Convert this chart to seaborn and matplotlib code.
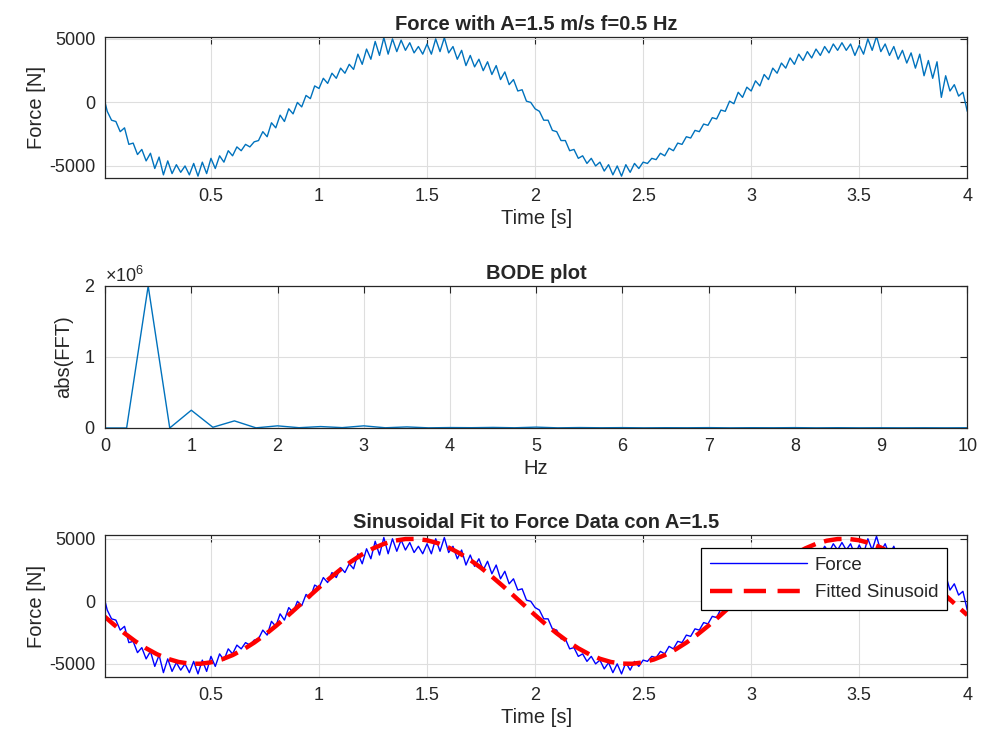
import numpy as np
import pandas as pd
import matplotlib
matplotlib.use("Agg")
import matplotlib.pyplot as plt
from matplotlib.ticker import ScalarFormatter
import seaborn as sns

force_vals = [
    0,
    -700, -1400, -1500, -2300, -2000, -3300, -3200, -4100, -3700, -4600,
    -4000, -5200, -4300, -5700, -4600, -5600, -4900, -5500, -5000, -5700,
    -4800, -5800, -4700, -5600, -4400, -5200, -4200, -4700, -3800, -4200,
    -3500, -3800, -3300, -3500, -3100, -3000, -2300, -2700, -1600, -2000,
    -1000, -1500, -500, -900, 0, -350, 550, 300, 1300, 1100,
    1900, 1500, 2300, 1900, 2700, 2300, 3000, 2600, 3800, 3000,
    4200, 3400, 4800, 3700, 5100, 3800, 5000, 4000, 4900, 4100,
    4700, 3900, 4400, 3800, 4600, 3800, 5000, 4000, 5100, 3900,
    4400, 3400, 4100, 2900, 3700, 2800, 3400, 2500, 3200, 2200,
    2900, 1800, 2400, 1400, 1800, 900, 1000, 100, 0, -500,
    -700, -1400, -1400, -2200, -2300, -3000, -3000, -3800, -3700, -4400,
    -4200, -4800, -4400, -5000, -4700, -5400, -4900, -5700, -5000, -5800,
    -4900, -5500, -4800, -5200, -4700, -4800, -4400, -4500, -4000, -4200,
    -3600, -3800, -3200, -3300, -2700, -2800, -2200, -2300, -1700, -1800,
    -1200, -1300, -600, -700, 100, -100, 800, 400, 1200, 900,
    1700, 1300, 2200, 1800, 2700, 2300, 3100, 2700, 3500, 3000,
    3800, 3300, 4000, 3500, 4200, 3700, 4400, 3900, 4600, 4100,
    4700, 4100, 4600, 3700, 4500, 3800, 5000, 4100, 5200, 4000,
    4600, 3700, 4400, 3400, 4100, 3100, 3900, 2700, 3800, 2100,
    3300, 1900, 3200, 400, 2100, 900, 1400, 500, 800, -700,
]
time_s = np.concatenate([[0.01], np.round(np.arange(1, 201) * 0.02, 2)])

# fitted sinusoid, every 0.05 s
fit_time = np.round(np.arange(0, 81) * 0.05, 2)
fit_vals = [
    -1099, -1849, -2553, -3195, -3756, -4226, -4592, -4845, -4979, -4990,
    -4878, -4646, -4299, -3846, -3300, -2672, -1978, -1235, -462, 323,
    1099, 1849, 2553, 3195, 3756, 4226, 4592, 4845, 4979, 4990,
    4878, 4646, 4299, 3846, 3300, 2672, 1978, 1235, 462, -323,
    -1099, -1849, -2553, -3195, -3756, -4226, -4592, -4845, -4979, -4990,
    -4878, -4646, -4299, -3846, -3300, -2672, -1978, -1235, -462, 323,
    1099, 1849, 2553, 3195, 3756, 4226, 4592, 4845, 4979, 4990,
    4878, 4646, 4299, 3846, 3300, 2672, 1978, 1235, 462, -323,
    -1099,
]

# spectrum magnitude, every 0.25 Hz
freq_hz = np.round(np.arange(0, 41) * 0.25, 2)
fft_abs = [
    0, 0, 2.0e6, 0, 0.25e6, 0.01e6, 0.1e6, 0.002e6, 0.03e6, 0.004e6,
    0.02e6, 0.005e6, 0.03e6, 0.003e6, 0.015e6, 0.002e6, 0.006e6, 0.004e6, 0.008e6, 0.003e6,
    0.012e6, 0.002e6, 0.006e6, 0.003e6, 0.005e6, 0.002e6, 0.004e6, 0.003e6, 0.005e6, 0.002e6,
    0.004e6, 0.003e6, 0.005e6, 0.002e6, 0.004e6, 0.002e6, 0.003e6, 0.002e6, 0.003e6, 0.002e6,
    0.003e6,
]

force_df = pd.DataFrame({"t": time_s, "F": force_vals})
fit_df = pd.DataFrame({"t": fit_time, "F": fit_vals})
fft_df = pd.DataFrame({"f": freq_hz, "A": fft_abs})

sns.set_theme(style="white")
plt.rcParams["font.family"] = ["Liberation Sans", "DejaVu Sans"]
plt.rcParams["mathtext.fontset"] = "custom"
plt.rcParams["mathtext.rm"] = "Liberation Sans"
plt.rcParams["axes.unicode_minus"] = False

ink = "#262626"
fig = plt.figure(figsize=(9.82, 7.49), dpi=100)
ax1 = fig.add_axes([0.107, 0.7623, 0.878, 0.1883])
ax2 = fig.add_axes([0.107, 0.4286, 0.878, 0.1896])
ax3 = fig.add_axes([0.107, 0.0961, 0.878, 0.1896])


def style(ax):
    for s in ax.spines.values():
        s.set_color(ink)
        s.set_linewidth(0.9)
    ax.grid(True, color="#dedede", linewidth=0.8)
    ax.set_axisbelow(True)
    ax.tick_params(direction="in", length=5, width=0.8, colors=ink,
                   labelsize=13, top=True, right=True, pad=7)
    ax.xaxis.label.set_color(ink)
    ax.yaxis.label.set_color(ink)


sns.lineplot(data=force_df, x="t", y="F", ax=ax1, color="#0072BD",
             linewidth=1.0, estimator=None, sort=False)
ax1.set_xlim(0.01, 4)
ax1.set_ylim(-5950, 5150)
ax1.set_xticks([0.5, 1, 1.5, 2, 2.5, 3, 3.5, 4])
ax1.set_xticklabels(["0.5", "1", "1.5", "2", "2.5", "3", "3.5", "4"])
ax1.set_yticks([-5000, 0, 5000])
ax1.set_xlabel("Time [s]", fontsize=14.5, labelpad=3)
ax1.set_ylabel("Force [N]", fontsize=14.5, labelpad=2)
ax1.set_title("Force with A=1.5 m/s f=0.5 Hz", fontsize=14.5, fontweight="bold", pad=5)
style(ax1)

sns.lineplot(data=fft_df, x="f", y="A", ax=ax2, color="#0072BD",
             linewidth=1.0, estimator=None, sort=False)
ax2.set_xlim(0, 10)
ax2.set_ylim(0, 2.0e6)
ax2.set_xticks(range(0, 11))
ax2.set_yticks([0, 1e6, 2e6])
fmt = ScalarFormatter(useMathText=True)
fmt.set_powerlimits((0, 0))
ax2.yaxis.set_major_formatter(fmt)
ax2.set_xlabel("Hz", fontsize=14.5, labelpad=3)
ax2.set_ylabel("abs(FFT)", fontsize=14.5, labelpad=8)
ax2.set_title("BODE plot", fontsize=14.5, fontweight="bold", pad=5)
style(ax2)
ax2.yaxis.get_offset_text().set_fontsize(13)
ax2.yaxis.get_offset_text().set_color(ink)

sns.lineplot(data=force_df, x="t", y="F", ax=ax3, color="blue",
             linewidth=1.0, estimator=None, sort=False, label="Force")
sns.lineplot(data=fit_df, x="t", y="F", ax=ax3, color="red",
             linewidth=3.2, estimator=None, sort=False, dashes=False,
             label="Fitted Sinusoid")
ax3.lines[1].set_dashes((4, 2))
ax3.set_xlim(0.01, 4)
ax3.set_ylim(-6050, 5300)
ax3.set_xticks([0.5, 1, 1.5, 2, 2.5, 3, 3.5, 4])
ax3.set_xticklabels(["0.5", "1", "1.5", "2", "2.5", "3", "3.5", "4"])
ax3.set_yticks([-5000, 0, 5000])
ax3.set_xlabel("Time [s]", fontsize=14.5, labelpad=3)
ax3.set_ylabel("Force [N]", fontsize=14.5, labelpad=2)
ax3.set_title("Sinusoidal Fit to Force Data con A=1.5", fontsize=14.5, fontweight="bold", pad=5)
style(ax3)
leg = ax3.legend(loc="upper right", bbox_to_anchor=(0.976, 0.908), borderaxespad=0,
                 fontsize=13.5, frameon=True, fancybox=False, handlelength=5.2,
                 borderpad=0.45, labelspacing=0.55, handletextpad=0.4)
leg.get_frame().set_edgecolor("black")
leg.get_frame().set_linewidth(0.9)
leg.get_frame().set_alpha(1)
leg.get_lines()[1].set_dashes((5, 2.6))
for txt in leg.get_texts():
    txt.set_color(ink)

fig.savefig("out.png", dpi=100)
